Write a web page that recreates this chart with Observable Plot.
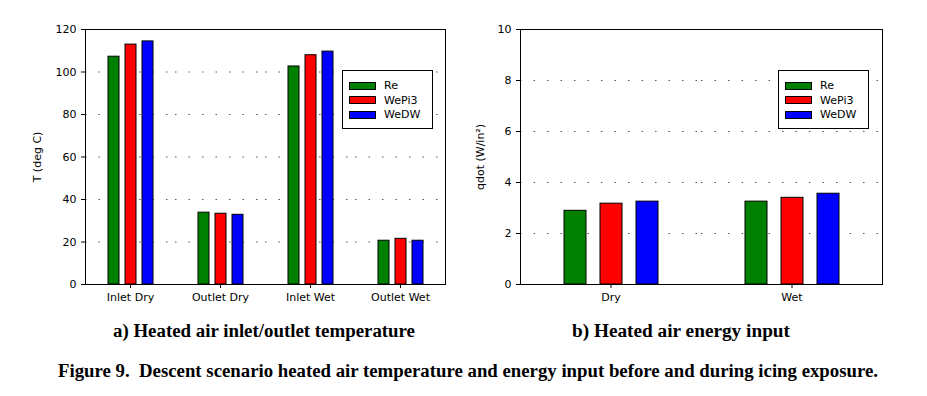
<!DOCTYPE html>
<html><head><meta charset="utf-8">
<script src="https://cdn.jsdelivr.net/npm/d3@7"></script>
<script src="https://cdn.jsdelivr.net/npm/@observablehq/plot@0.6"></script>
<style>
html,body{margin:0;padding:0;background:#fff;}
body{width:927px;height:396px;overflow:hidden;font-family:"DejaVu Sans",sans-serif;}
#row{display:flex;position:relative;height:310px;}
#row svg{display:block;overflow:visible;}
.legend{position:absolute;border:1px solid #000;background:#fff;box-sizing:border-box;font:11px "DejaVu Sans",sans-serif;color:#000;}
.legend .item{position:absolute;left:6px;height:15px;display:flex;align-items:center;}
.legend .sw{width:27px;height:8px;border:1px solid #000;box-sizing:border-box;margin-right:8px;}
#captions{display:block;}
#captions text{font-family:"Liberation Serif",serif;font-weight:bold;font-size:18px;fill:#000;white-space:pre;}
</style>
</head><body>
<div id="row"></div>
<svg id="captions" width="927" height="86"></svg>
<script>
// ---- data ----
const seriesNames = ["Re", "WePi3", "WeDW"];
const seriesColors = ["#008000", "#ff0000", "#0000ff"];

const tempCategories = ["Inlet Dry", "Outlet Dry", "Inlet Wet", "Outlet Wet"];
const tempRe    = [107.2, 33.8, 102.6, 20.6];
const tempWePi3 = [112.9, 33.3, 107.9, 21.5];
const tempWeDW  = [114.4, 32.8, 109.6, 20.6];
const tempTicks = [0, 20, 40, 60, 80, 100, 120];

const qdotCategories = ["Dry", "Wet"];
const qdotRe    = [2.89, 3.25];
const qdotWePi3 = [3.17, 3.40];
const qdotWeDW  = [3.25, 3.56];
const qdotTicks = [0, 2, 4, 6, 8, 10];

const captionA = "a) Heated air inlet/outlet temperature";
const captionB = "b) Heated air energy input";
const figureCaption = "Figure 9.  Descent scenario heated air temperature and energy input before and during icing exposure.";

// ---- build ----
function toRows(cats, seriesVals) {
  return cats.flatMap((c, i) => seriesNames.map((s, j) => ({cat: c, series: s, value: seriesVals[j][i]})));
}

function panel(o) {
  const rows = toRows(o.cats, o.vals);
  const ymax = o.ticks[o.ticks.length - 1];
  const grid = o.ticks.filter(t => t > 0 && t < ymax);
  return Plot.plot({
    width: o.width, height: 310,
    marginLeft: o.ml, marginRight: o.mr, marginTop: 29, marginBottom: 26,
    style: {fontFamily: "DejaVu Sans, sans-serif", fontSize: "11px", color: "#000", background: "#fff", overflow: "visible"},
    facet: {data: rows, x: "cat"},
    fx: {domain: o.cats, padding: 0, axis: "bottom", label: null, tickSize: 4, tickPadding: 5},
    x: {domain: seriesNames, paddingInner: o.pi, paddingOuter: o.po, axis: null},
    y: {domain: [0, ymax], ticks: o.ticks, tickSize: 4, tickPadding: 5, label: o.label, labelArrow: "none", labelAnchor: "center", labelOffset: o.lo},
    color: {domain: seriesNames, range: seriesColors},
    marks: [
      Plot.ruleY(grid, {stroke: "#555", strokeDasharray: "1.5,12"}),
      Plot.barY(rows, {x: "series", y: "value", fill: "series", stroke: "#000", strokeWidth: 1}),
      Plot.frame({facet: "super", stroke: "#000"})
    ]
  });
}

function legend(left, top, w, h) {
  const d = document.createElement("div");
  d.className = "legend";
  Object.assign(d.style, {left: left + "px", top: top + "px", width: w + "px", height: h + "px"});
  seriesNames.forEach((s, i) => {
    const it = document.createElement("div");
    it.className = "item";
    it.style.top = (7 + i * 14.7) + "px";
    const sw = document.createElement("div");
    sw.className = "sw";
    sw.style.background = seriesColors[i];
    it.appendChild(sw);
    it.appendChild(document.createTextNode(s));
    d.appendChild(it);
  });
  return d;
}

const row = document.getElementById("row");
row.appendChild(panel({cats: tempCategories, vals: [tempRe, tempWePi3, tempWeDW], ticks: tempTicks,
  label: "T (deg C)", width: 464, ml: 83, mr: 18, pi: 0.37, po: 1.2, lo: 52}));
row.appendChild(panel({cats: qdotCategories, vals: [qdotRe, qdotWePi3, qdotWeDW], ticks: qdotTicks,
  label: "qdot (W/in²)", width: 463, ml: 55, mr: 45, pi: 0.39, po: 1.18, lo: 44}));
row.appendChild(legend(342, 70, 91, 59));
row.appendChild(legend(778, 70, 91, 59));

const cap = d3.select("#captions");
[[captionA, 264, 27, 302], [captionB, 681, 27, 218], [figureCaption, 468, 67, 820]].forEach(([t, x, y, w]) => {
  cap.append("text").attr("x", x).attr("y", y).attr("text-anchor", "middle")
    .attr("textLength", w).attr("lengthAdjust", "spacingAndGlyphs").text(t);
});
</script>
</body></html>
